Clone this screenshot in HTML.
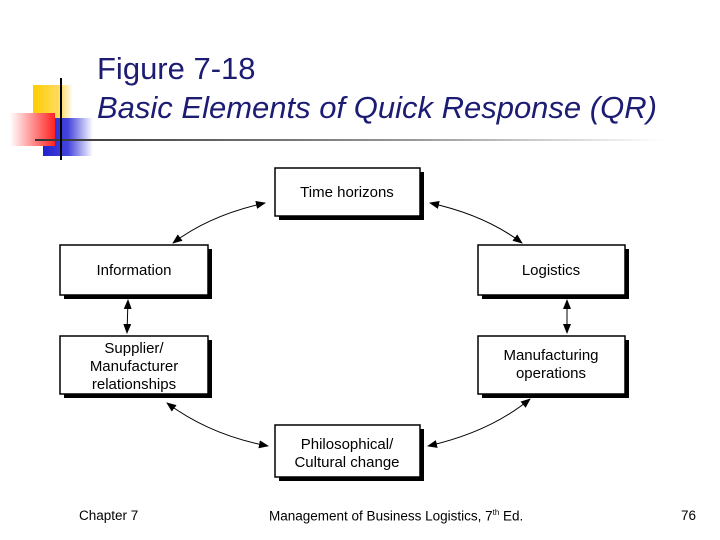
<!DOCTYPE html>
<html><head><meta charset="utf-8"><style>
body{margin:0;width:720px;height:540px;background:#fff;overflow:hidden;position:relative;font-family:"Liberation Sans",sans-serif}
.t{position:absolute;color:#1c1c73;font-size:31px;left:97px;white-space:nowrap}
.f{position:absolute;top:508px;font-size:13.5px;color:#000}
</style></head><body>
<svg width="720" height="540" style="position:absolute;left:0;top:0">
<defs>
<linearGradient id="gl" x1="0" x2="1"><stop offset="0" stop-color="#333"/><stop offset="0.6" stop-color="#999"/><stop offset="1" stop-color="#fff"/></linearGradient>
<linearGradient id="gy" x1="0" x2="1"><stop offset="0" stop-color="#fc0"/><stop offset="0.7" stop-color="#fd6"/><stop offset="1" stop-color="#fff"/></linearGradient>
<linearGradient id="gr" x1="1" x2="0"><stop offset="0" stop-color="#f22"/><stop offset="1" stop-color="#fff"/></linearGradient>
<linearGradient id="gb" x1="0" x2="1"><stop offset="0" stop-color="#22c"/><stop offset="0.5" stop-color="#44d"/><stop offset="1" stop-color="#fff"/></linearGradient>
<marker id="a" markerWidth="10" markerHeight="8" refX="9" refY="4" orient="auto-start-reverse" markerUnits="userSpaceOnUse"><path d="M0,0L10,4L0,8z" fill="#000"/></marker>
</defs>
<rect x="33" y="85" width="40" height="35" fill="url(#gy)"/>
<rect x="43" y="118" width="50" height="38" fill="url(#gb)"/>
<rect x="10" y="113" width="45" height="33" fill="url(#gr)"/>
<rect x="35" y="139" width="630" height="2" fill="url(#gl)"/>
<rect x="60" y="78" width="2" height="82" fill="#000"/>
<g stroke="#000" stroke-width="1.5" fill="#fff">
<rect x="279" y="172" width="145" height="48" fill="#000" stroke="none"/><rect x="275" y="168" width="145" height="48"/>
<rect x="64" y="249" width="148" height="50" fill="#000" stroke="none"/><rect x="60" y="245" width="148" height="50"/>
<rect x="64" y="340" width="148" height="58" fill="#000" stroke="none"/><rect x="60" y="336" width="148" height="58"/>
<rect x="482" y="249" width="147" height="50" fill="#000" stroke="none"/><rect x="478" y="245" width="147" height="50"/>
<rect x="482" y="340" width="147" height="58" fill="#000" stroke="none"/><rect x="478" y="336" width="147" height="58"/>
<rect x="279" y="429" width="145" height="52" fill="#000" stroke="none"/><rect x="275" y="425" width="145" height="52"/>
</g>
<g stroke="#000" stroke-width="1" fill="none" marker-start="url(#a)" marker-end="url(#a)">
<path d="M265,203 Q210,215 173,243"/>
<path d="M430,203 Q485,215 522,243"/>
<path d="M128,300 L127,333"/>
<path d="M567,300 L567,333"/>
<path d="M167,403 Q210,435 268,446"/>
<path d="M530,399 Q490,432 428,446"/>
</g>
<g font-family="Liberation Sans, sans-serif" font-size="15" text-anchor="middle" fill="#000">
<text x="347" y="197">Time horizons</text>
<text x="134" y="275">Information</text>
<text x="134" y="353">Supplier/</text><text x="134" y="371">Manufacturer</text><text x="134" y="389">relationships</text>
<text x="551" y="275">Logistics</text>
<text x="551" y="360">Manufacturing</text><text x="551" y="378">operations</text>
<text x="347" y="449">Philosophical/</text><text x="347" y="467">Cultural change</text>
</g>
</svg>
<div class="t" style="top:51px">Figure 7-18</div>
<div class="t" style="top:90px;font-style:italic">Basic Elements of Quick Response (QR)</div>
<div class="f" style="left:79px">Chapter 7</div>
<div class="f" style="left:269px">Management of Business Logistics, 7<sup style="font-size:8px">th</sup> Ed.</div>
<div class="f" style="left:681px">76</div>
</body></html>
